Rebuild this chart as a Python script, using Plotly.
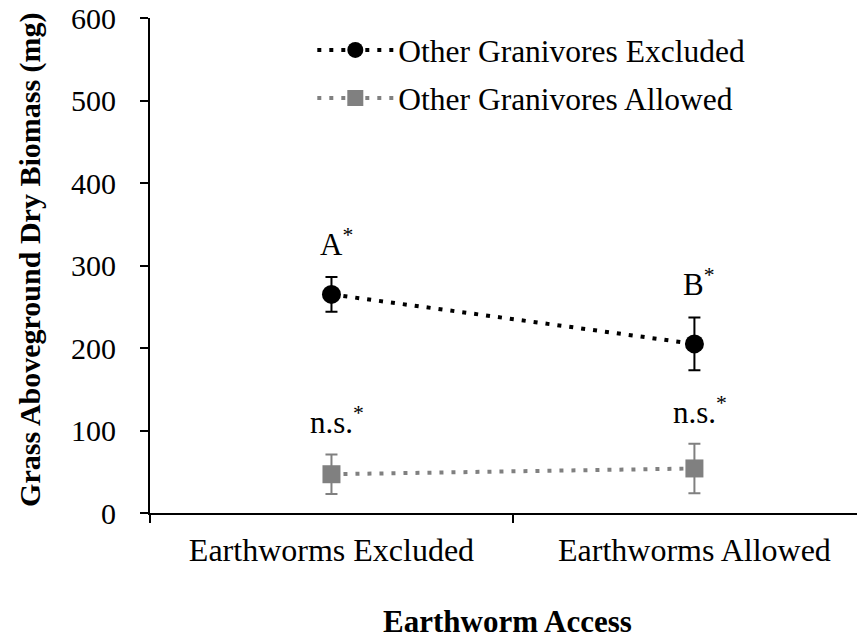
import plotly.graph_objects as go

categories = ["Earthworms Excluded", "Earthworms Allowed"]
excluded_mean = [265, 205]
excluded_err = [21, 32]
allowed_mean = [47, 54]
allowed_err = [24, 30]
excluded_labels = ["A", "B"]
allowed_labels = ["n.s.", "n.s."]
series_names = ["Other Granivores Excluded", "Other Granivores Allowed"]
y_ticks = [0, 100, 200, 300, 400, 500, 600]

FONT = "Liberation Serif, Times New Roman, serif"
BLACK = "#000000"
GRAY = "#808080"

fig = go.Figure()
fig.add_trace(go.Scatter(
    x=categories, y=excluded_mean, name=series_names[0], legendgroup="g1",
    mode="lines+markers",
    line=dict(color=BLACK, width=4, dash="4px,8px"),
    marker=dict(symbol="circle", size=19, color=BLACK),
    error_y=dict(type="data", array=excluded_err, visible=True, color=BLACK, thickness=2, width=6),
))
fig.add_trace(go.Scatter(
    x=categories, y=allowed_mean, name=series_names[1], legendgroup="g2",
    mode="lines+markers",
    line=dict(color=GRAY, width=4, dash="4px,8px"),
    marker=dict(symbol="square", size=18, color=GRAY),
    error_y=dict(type="data", array=allowed_err, visible=True, color=GRAY, thickness=2, width=6),
))

annotations = []
for cat, m, e, lab in zip(categories, excluded_mean, excluded_err, excluded_labels):
    annotations.append(dict(x=cat, y=m + e, xref="x", yref="y", text=lab + "<sup>*</sup>",
                            showarrow=False, yanchor="bottom", yshift=13, xshift=5,
                            font=dict(family=FONT, size=31, color=BLACK)))
for cat, m, e, lab in zip(categories, allowed_mean, allowed_err, allowed_labels):
    annotations.append(dict(x=cat, y=m + e, xref="x", yref="y", text=lab + "<sup>*</sup>",
                            showarrow=False, yanchor="bottom", yshift=12, xshift=6,
                            font=dict(family=FONT, size=31, color=BLACK)))
annotations.append(dict(x=-0.168, y=0.511, xref="paper", yref="paper", textangle=-90,
                        text="<b>Grass Aboveground Dry Biomass (mg)</b>", showarrow=False,
                        xanchor="center", yanchor="middle",
                        font=dict(family=FONT, size=30, color=BLACK)))
annotations.append(dict(x=0.5, y=-0.22, xref="paper", yref="paper",
                        text="<b>Earthworm Access</b>", showarrow=False,
                        xanchor="center", yanchor="middle",
                        font=dict(family=FONT, size=31, color=BLACK)))

fig.update_layout(
    width=857, height=630,
    margin=dict(l=142, r=0, t=10, b=125, autoexpand=False),
    paper_bgcolor="white", plot_bgcolor="white",
    font=dict(family=FONT, color=BLACK),
    showlegend=True,
    legend=dict(x=0.227, y=0.99, xanchor="left", yanchor="top",
                font=dict(family=FONT, size=31.5, color=BLACK),
                itemwidth=76, tracegroupgap=4, bgcolor="rgba(0,0,0,0)"),
    annotations=annotations,
    xaxis=dict(type="category", categoryorder="array", categoryarray=categories,
               range=[-0.5, 1.47], tickson="boundaries", ticks="outside", ticklen=8,
               tickwidth=2, tickcolor=BLACK, showline=True, linewidth=2, linecolor=BLACK,
               showgrid=False, zeroline=False, ticklabelstandoff=8, automargin=False,
               tickfont=dict(family=FONT, size=32, color=BLACK)),
    yaxis=dict(range=[0, 600], tickvals=y_ticks, ticks="outside", ticklen=8, tickwidth=2,
               tickcolor=BLACK, showline=True, linewidth=2, linecolor=BLACK,
               showgrid=False, zeroline=False, ticklabelstandoff=18, automargin=False,
               ticklabeloverflow="allow",
               tickfont=dict(family=FONT, size=30, color=BLACK)),
)

fig.write_html("out.html")
